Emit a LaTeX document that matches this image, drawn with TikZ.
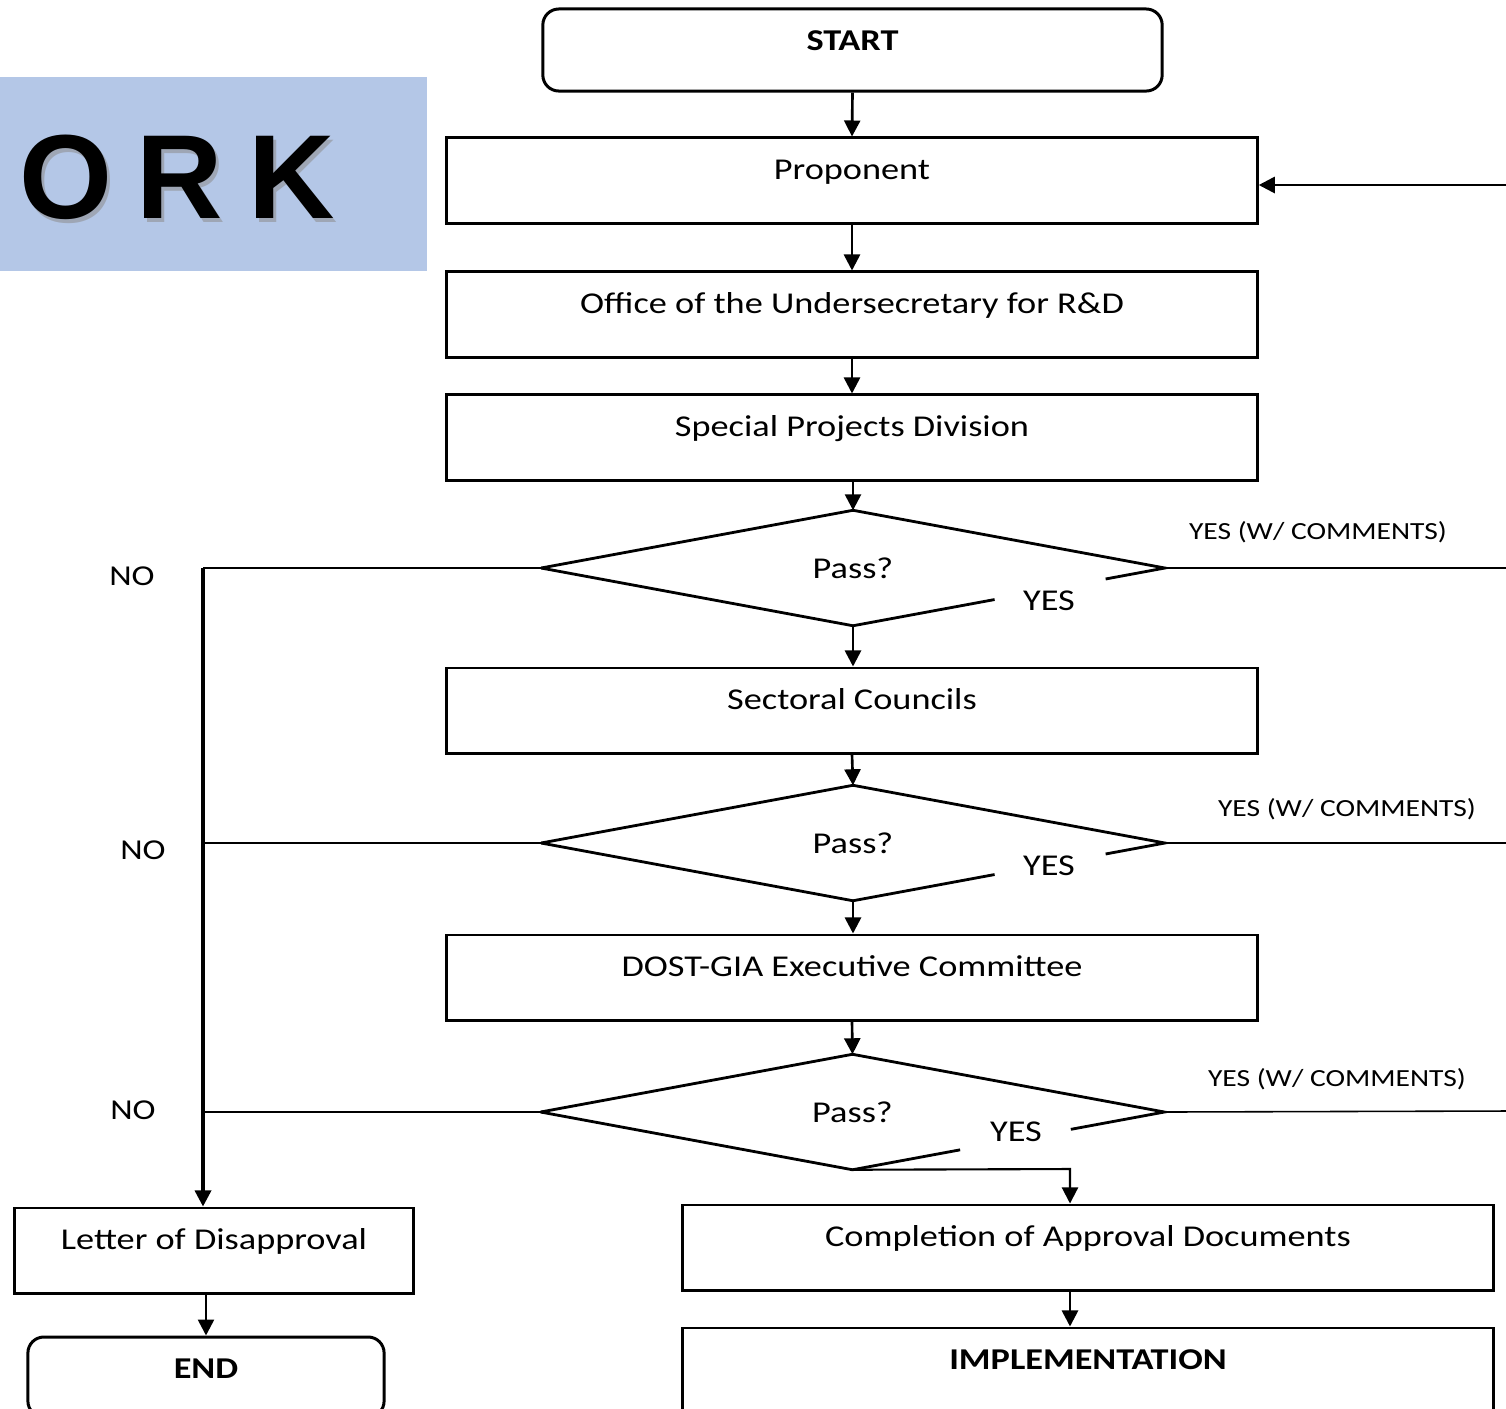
\documentclass[tikz,border=0pt]{standalone}
\usepackage{fontspec}
\setmainfont{Carlito}[FakeStretch=1.2]
\newfontfamily\orkfont{Liberation Sans}
\usetikzlibrary{arrows.meta,calc,shapes.geometric}
\definecolor{orkblue}{RGB}{180,199,231}
\tikzset{
  procbox/.style={draw, line width=0.85pt, minimum width=8.1cm, inner sep=0pt,
    text height=0.415cm, text depth=0.435cm, font=\fontsize{8.6}{10}\selectfont},
  termbox/.style={procbox, rounded corners=0.16cm, font=\fontsize{8.6}{10}\selectfont\bfseries},
  decision/.style={shape=diamond, draw=none, inner sep=0pt, minimum width=6.22cm,
    minimum height=1.14cm, font=\fontsize{8.6}{10}\selectfont},
  dedge/.style={line width=0.8pt},
  arr/.style={line width=0.75pt, -{Triangle[width=0.16cm,length=0.16cm]}},
  thinline/.style={line width=0.45pt},
  lbl/.style={font=\fontsize{8.6}{10}\selectfont, inner sep=0pt},
  smalllbl/.style={font=\fontsize{7}{8}\selectfont, inner sep=0pt},
  nolbl/.style={font=\fontsize{8.2}{9}\selectfont, inner sep=0pt},
  orktext/.style={anchor=base, font=\orkfont\fontsize{34}{36}\selectfont\bfseries},
}
\begin{document}
\begin{tikzpicture}[x=0.01cm,y=-0.01cm]
\clip (0,0) rectangle (1506,1408);
\fill[white] (0,0) rectangle (1506,1408);

% ORK banner
\fill[orkblue] (0,77) rectangle (427,271);
\node[orktext, text=black!45, opacity=0.55] (orkshadow) at (180,222) {O\hspace{0.24cm}R\hspace{0.26cm}K};
\node[orktext] (ork) at (177,218) {O\hspace{0.24cm}R\hspace{0.26cm}K};

% boxes
\node[termbox, minimum width=6.19cm, text depth=0.405cm] (start) at (852.5,50) {START};
\node[procbox] (prop) at (852,180.5) {Proponent};
\node[procbox] (office) at (852,314.5) {Office of the Undersecretary for R\&D};
\node[procbox] (spd) at (852,437.5) {Special Projects Division};
\node[procbox] (sect) at (852,710.5) {Sectoral Councils};
\node[procbox] (dost) at (852,977.5) {DOST-GIA Executive Committee};
\node[procbox, minimum width=3.98cm] (letter) at (214,1250.5) {Letter of Disapproval};
\node[procbox] (compl) at (1088,1247.5) {Completion of Approval Documents};
\node[procbox, text depth=0.585cm, font=\fontsize{8.6}{10}\selectfont\bfseries] (impl) at (1088,1378) {IMPLEMENTATION};
\node[termbox, minimum width=3.56cm, text depth=0.385cm] (end) at (206,1377) {END};

% decisions
\node[decision] (d1) at (853,568) {Pass?};
\node[decision] (d2) at (853,843) {Pass?};
\node[decision] (d3) at (852.5,1112) {Pass?};

\foreach \d/\a/\b in {d1/0.454/0.19, d2/0.454/0.19, d3/0.345/0.30}{
  \draw[dedge] (\d.west) -- (\d.north) -- (\d.east) -- ($(\d.east)!\b!(\d.south)$);
  \draw[dedge] (\d.west) -- (\d.south) -- ($(\d.south)!\a!(\d.east)$);
}

% YES labels
\node[lbl] (y1) at (1049,601) {YES};
\node[lbl] (y2) at (1049,866) {YES};
\node[lbl] (y3) at (1016,1132) {YES};

% YES (W/ COMMENTS) lines
\coordinate (r1) at (1506,568);
\coordinate (r2) at (1506,843);
\coordinate (r3) at (1506,1111);
\draw[thinline] (d1.east) -- (r1);
\draw[thinline] (d2.east) -- (r2);
\draw[thinline] (d3.east) -- (r3);
\node[smalllbl] (c1) at (1318,532) {YES (W/ COMMENTS)};
\node[smalllbl] (c2) at (1347,809) {YES (W/ COMMENTS)};
\node[smalllbl] (c3) at (1337,1079) {YES (W/ COMMENTS)};

% feedback into Proponent
\coordinate (fb) at (1506,185);
\draw[arr] (fb) -- (fb -| prop.east);

% NO lines
\coordinate (lt) at (203,568);
\draw[thinline] (d1.west) -- (lt);
\draw[thinline] (d2.west) -- (lt |- d2.west);
\draw[thinline] (d3.west) -- (lt |- d3.west);
\draw[arr, line width=0.95pt] (lt) -- (lt |- letter.north);
\node[nolbl] (n1) at (132,576) {NO};
\node[nolbl] (n2) at (143,850) {NO};
\node[nolbl] (n3) at (133,1110) {NO};

% main flow
\draw[arr] (start.south) -- (prop.north);
\draw[arr] (prop.south) -- (office.north);
\draw[arr] (office.south) -- (spd.north);
\draw[arr] (spd.south -| d1.north) -- (d1.north);
\draw[arr] (d1.south) -- (d1.south |- sect.north);
\draw[arr] (sect.south) -- (d2.north);
\draw[arr] (d2.south) -- (d2.south |- dost.north);
\draw[arr] (dost.south) -- (d3.north);
\coordinate (cj) at (1070,1169);
\draw[arr, line width=0.6pt] (d3.south) -- (cj) -- (cj |- compl.north);
\draw[arr] (compl.south -| cj) -- (cj |- impl.north);
\draw[arr] (letter.south -| end.north) -- (end.north);
\end{tikzpicture}
\end{document}
